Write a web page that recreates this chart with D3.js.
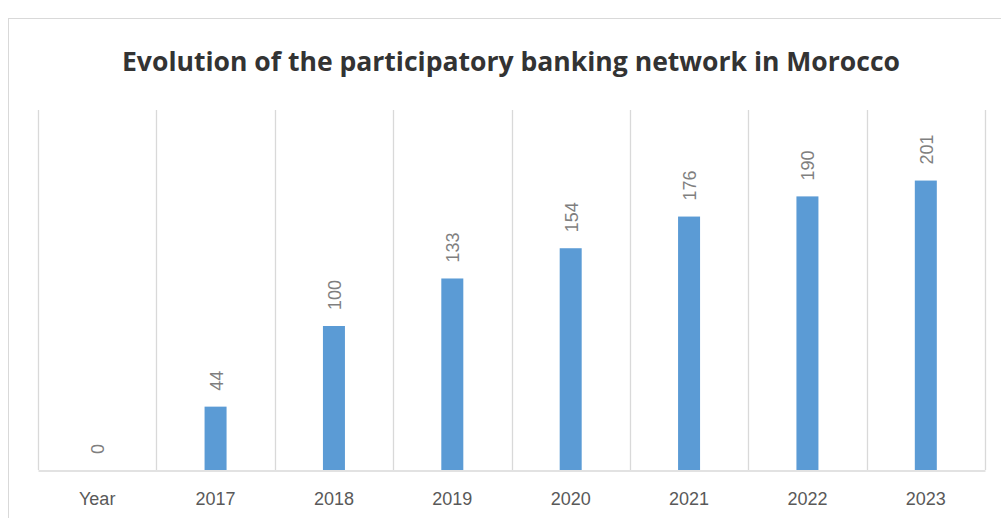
<!DOCTYPE html>
<html><head><meta charset="utf-8">
<script src="https://cdn.jsdelivr.net/npm/d3@7"></script>
<style>html,body{margin:0;padding:0;background:#fff;}</style>
</head><body>
<script>
const categories = ["Year","2017","2018","2019","2020","2021","2022","2023"];
const values = [0,44,100,133,154,176,190,201];
const title = "Evolution of the participatory banking network in Morocco";

(function () {
const W = 1001, H = 518;
const svg = d3.select("body").append("svg").attr("width", W).attr("height", H);

// chart border
svg.append("rect").attr("x", 8.5).attr("y", 18.5).attr("width", 1100).attr("height", 600)
  .attr("fill", "none").attr("stroke", "#d9d9d9").attr("stroke-width", 1);

const pLeft = 38, pRight = 985, pTop = 110, pBottom = 470;
const x = d3.scaleBand().domain(categories).range([pLeft, pRight]).paddingInner(0).paddingOuter(0);
const y = d3.scaleLinear().domain([0, 250]).range([pBottom, pTop]);

// vertical gridlines at band boundaries
const bounds = categories.map(c => x(c)).concat([pRight]);
svg.append("g").selectAll("line").data(bounds).join("line")
  .attr("x1", d => Math.round(d) + 0.5).attr("x2", d => Math.round(d) + 0.5)
  .attr("y1", pTop).attr("y2", pBottom)
  .attr("stroke", "#d9d9d9").attr("stroke-width", 1.3);

// x axis
const xAxis = svg.append("g").attr("transform", `translate(0,${pBottom + 0.5})`)
  .call(d3.axisBottom(x).tickSize(0).tickPadding(0));
xAxis.select(".domain").attr("stroke", "#d9d9d9").attr("stroke-width", 1.3);
xAxis.selectAll("text").attr("font-family", "Liberation Sans, Arial, sans-serif")
  .attr("font-size", 18).attr("fill", "#595959").attr("dy", null).attr("y", 34.5);

// bars
const bw = 22;
svg.append("g").selectAll("rect").data(values).join("rect")
  .attr("x", (d, i) => x(categories[i]) + x.bandwidth() / 2 - bw / 2)
  .attr("y", d => y(d))
  .attr("width", bw)
  .attr("height", d => pBottom - y(d))
  .attr("fill", "#5b9bd5");

// value labels, rotated
svg.append("g").selectAll("text").data(values).join("text")
  .attr("transform", (d, i) => `translate(${x(categories[i]) + x.bandwidth() / 2 + 1},${y(d) - 16}) rotate(-90)`)
  .attr("text-anchor", "start").attr("dominant-baseline", "central")
  .attr("font-family", "Liberation Sans, Arial, sans-serif").attr("font-size", 18)
  .attr("fill", "#7f7f7f").text(d => d);

// title
svg.append("text").attr("x", 511).attr("y", 71).attr("text-anchor", "middle")
  .attr("font-family", "Open Sans, Liberation Sans, sans-serif").attr("font-weight", "bold")
  .attr("font-size", 27).attr("fill", "#333333")
  .attr("textLength", 778).attr("lengthAdjust", "spacingAndGlyphs")
  .text(title);
})();
</script>
</body></html>
